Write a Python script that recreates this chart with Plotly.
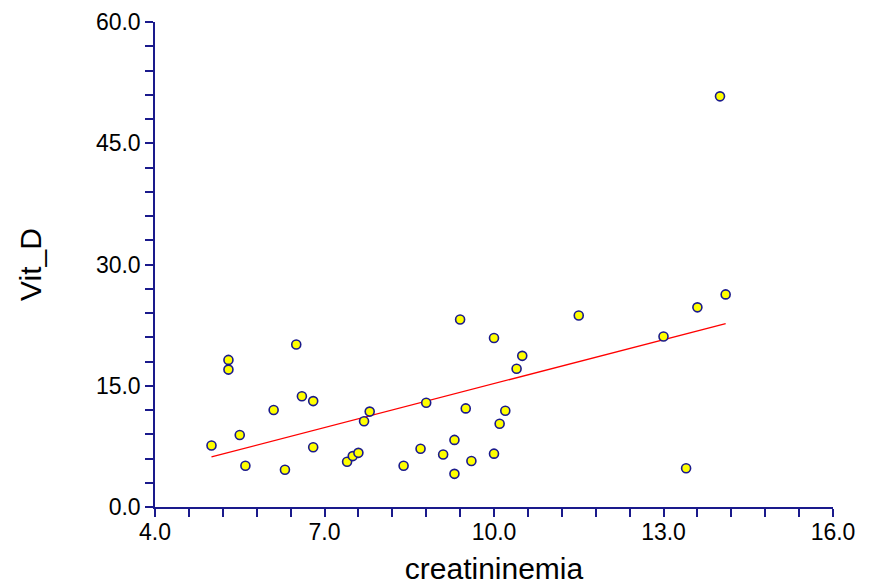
import plotly.graph_objects as go

# data
creat = [5.0, 5.3, 5.3, 5.5, 5.6, 6.1, 6.3, 6.5, 6.6, 6.8, 6.8, 7.4, 7.5, 7.6, 7.7, 7.8,
         8.4, 8.7, 8.8, 9.1, 9.3, 9.3, 9.4, 9.5, 9.6, 10.0, 10.0, 10.1, 10.2, 10.4, 10.5,
         11.5, 13.0, 13.4, 13.6, 14.0, 14.1]
vitd = [7.6, 18.2, 17.0, 8.9, 5.1, 12.0, 4.6, 20.1, 13.7, 13.1, 7.4, 5.6, 6.3, 6.7, 10.6, 11.8,
        5.1, 7.2, 12.9, 6.5, 8.3, 4.1, 23.2, 12.2, 5.7, 20.9, 6.6, 10.3, 11.9, 17.1, 18.7,
        23.7, 21.1, 4.8, 24.7, 50.8, 26.3]
trend_x = [5.0, 14.1]
trend_y = [6.2, 22.7]

x_ticks = [4, 7, 10, 13, 16]
x_labels = ["4.0", "7.0", "10.0", "13.0", "16.0"]
y_ticks = [0, 15, 30, 45, 60]
y_labels = ["0.0", "15.0", "30.0", "45.0", "60.0"]

NAVY = "#1a1a8c"
FONT = "Liberation Sans, Arial, sans-serif"

fig = go.Figure()
fig.add_trace(go.Scatter(x=trend_x, y=trend_y, mode="lines",
                         line=dict(color="#ff0000", width=1.3), hoverinfo="skip"))
fig.add_trace(go.Scatter(x=creat, y=vitd, mode="markers",
                         marker=dict(symbol="circle", size=9, color="#ffff00",
                                     line=dict(color=NAVY, width=1.6))))

axis_common = dict(showgrid=False, zeroline=False, showline=True, linecolor=NAVY, linewidth=1.5,
                   ticks="outside", ticklen=8, tickwidth=1.5, tickcolor=NAVY, automargin=False,
                   tickfont=dict(family=FONT, size=23, color="#000000"),
                   minor=dict(ticks="outside", ticklen=8, tickwidth=1.5, tickcolor=NAVY))

fig.update_xaxes(range=[4, 16], tickvals=x_ticks, ticktext=x_labels, ticklabelstandoff=-4,
                 title=dict(text="creatininemia", font=dict(family=FONT, size=30, color="#000000"),
                            standoff=14),
                 **axis_common)
fig.update_xaxes(minor=dict(dtick=0.6, tick0=4))
fig.update_yaxes(range=[0, 60], tickvals=y_ticks, ticktext=y_labels,
                 title=dict(text="Vit_D", font=dict(family=FONT, size=30, color="#000000"),
                            standoff=45),
                 **axis_common)
fig.update_yaxes(minor=dict(dtick=3, tick0=0))

# page body has an 8px default margin, so the figure is 8px smaller than the window
fig.update_layout(width=867, height=578, showlegend=False,
                  plot_bgcolor="white", paper_bgcolor="white",
                  margin=dict(l=147, r=42, t=14, b=79, pad=0))

fig.write_html("out.html")
